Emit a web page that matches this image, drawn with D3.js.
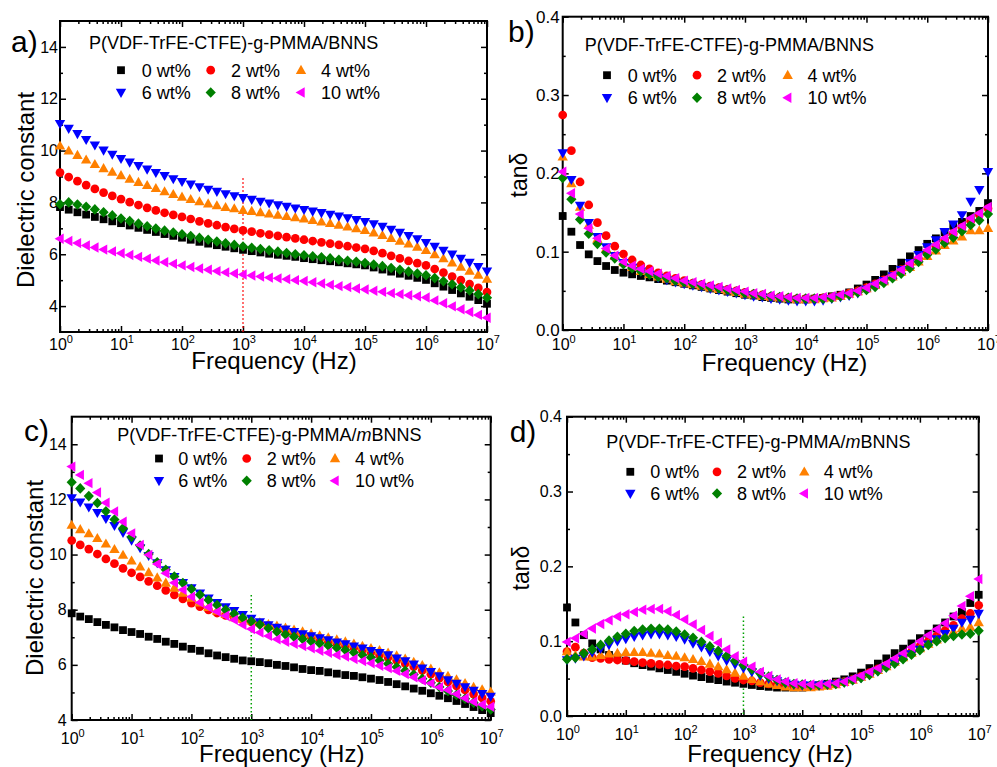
<!DOCTYPE html>
<html>
<head>
<meta charset="utf-8">
<script src="https://cdn.jsdelivr.net/npm/d3@7"></script>
<style>
  body { margin: 0; background: #fff; }
  svg { display: block; }
  text { font-family: Arial, "Liberation Sans", sans-serif; fill: #000; }
</style>
</head>
<body>
<svg id="fig" width="997" height="767"></svg>
<script>
// ---- measurement frequencies (Hz), 7 points per decade ----
const frequency = [
  1, 1.389, 1.931, 2.683, 3.728, 5.179, 7.197,
  10, 13.89, 19.31, 26.83, 37.28, 51.79, 71.97,
  100, 138.9, 193.1, 268.3, 372.8, 517.9, 719.7,
  1e3, 1389, 1931, 2683, 3728, 5179, 7197,
  1e4, 13890, 19310, 26830, 37280, 51790, 71970,
  1e5, 138900, 193100, 268300, 372800, 517900, 719700,
  1e6, 1.389e6, 1.931e6, 2.683e6, 3.728e6, 5.179e6, 7.197e6,
  1e7
];

const loadings = ["0 wt%", "2 wt%", "4 wt%", "6 wt%", "8 wt%", "10 wt%"];

// ---- (a) dielectric constant, BNNS fillers ----
const epsBNNS0 = [7.82, 7.72, 7.62, 7.53, 7.44, 7.35, 7.27, 7.20,
  7.11, 7.02, 6.94, 6.86, 6.78, 6.71, 6.64,
  6.56, 6.48, 6.41, 6.35, 6.29, 6.23, 6.17,
  6.12, 6.07, 6.02, 5.98, 5.94, 5.90, 5.85,
  5.81, 5.77, 5.73, 5.69, 5.65, 5.61, 5.57,
  5.49, 5.41, 5.33, 5.25, 5.17, 5.09, 5.01,
  4.88, 4.75, 4.62, 4.49, 4.36, 4.23, 4.09];
const epsBNNS2 = [9.15, 8.98, 8.82, 8.67, 8.52, 8.38, 8.25, 8.13,
  8.01, 7.90, 7.79, 7.69, 7.60, 7.52, 7.44,
  7.36, 7.27, 7.19, 7.12, 7.05, 6.98, 6.92,
  6.87, 6.81, 6.76, 6.71, 6.66, 6.61, 6.56,
  6.51, 6.46, 6.41, 6.36, 6.31, 6.26, 6.21,
  6.13, 6.04, 5.94, 5.84, 5.74, 5.66, 5.57,
  5.43, 5.29, 5.14, 5.00, 4.85, 4.70, 4.54];
const epsBNNS4 = [10.18, 9.99, 9.82, 9.64, 9.47, 9.31, 9.17, 9.04,
  8.90, 8.78, 8.66, 8.54, 8.42, 8.31, 8.21,
  8.12, 8.03, 7.95, 7.88, 7.81, 7.76, 7.70,
  7.66, 7.61, 7.56, 7.51, 7.46, 7.42, 7.37,
  7.31, 7.25, 7.19, 7.13, 7.06, 6.99, 6.92,
  6.83, 6.73, 6.62, 6.51, 6.40, 6.28, 6.15,
  5.99, 5.83, 5.67, 5.51, 5.35, 5.20, 5.04];
const epsBNNS6 = [11.04, 10.85, 10.65, 10.42, 10.21, 10.01, 9.85, 9.69,
  9.55, 9.42, 9.28, 9.15, 9.03, 8.91, 8.80,
  8.70, 8.60, 8.50, 8.42, 8.33, 8.25, 8.18,
  8.11, 8.04, 7.97, 7.90, 7.84, 7.78, 7.72,
  7.66, 7.60, 7.54, 7.47, 7.40, 7.33, 7.26,
  7.17, 7.07, 6.96, 6.84, 6.72, 6.59, 6.45,
  6.30, 6.15, 6.00, 5.84, 5.68, 5.52, 5.35];
const epsBNNS8 = [7.93, 8.00, 7.92, 7.83, 7.73, 7.62, 7.50, 7.38,
  7.28, 7.18, 7.08, 6.99, 6.91, 6.84, 6.77,
  6.70, 6.63, 6.56, 6.49, 6.42, 6.36, 6.30,
  6.25, 6.20, 6.15, 6.10, 6.05, 6.00, 5.96,
  5.92, 5.88, 5.84, 5.79, 5.75, 5.71, 5.66,
  5.60, 5.54, 5.47, 5.40, 5.33, 5.26, 5.19,
  5.08, 4.96, 4.84, 4.72, 4.60, 4.46, 4.32];
const epsBNNS10 = [6.60, 6.51, 6.43, 6.34, 6.26, 6.18, 6.11, 6.04,
  5.97, 5.90, 5.83, 5.76, 5.69, 5.63, 5.57,
  5.51, 5.45, 5.40, 5.35, 5.30, 5.26, 5.22,
  5.18, 5.14, 5.10, 5.07, 5.04, 5.00, 4.97,
  4.92, 4.87, 4.82, 4.77, 4.73, 4.68, 4.64,
  4.59, 4.55, 4.50, 4.46, 4.42, 4.38, 4.33,
  4.22, 4.11, 3.99, 3.88, 3.77, 3.66, 3.55];

// ---- (b) loss tangent, BNNS fillers ----
const tanBNNS0 = [0.1455, 0.1255, 0.1085, 0.0966, 0.088, 0.0817, 0.0766, 0.0732,
  0.0711, 0.069, 0.0672, 0.065, 0.063, 0.061, 0.059,
  0.057, 0.055, 0.053, 0.051, 0.049, 0.047, 0.045,
  0.044, 0.042, 0.041, 0.040, 0.039, 0.039, 0.039,
  0.040, 0.041, 0.043, 0.045, 0.048, 0.053, 0.058,
  0.064, 0.071, 0.078, 0.086, 0.094, 0.102, 0.110,
  0.117, 0.125, 0.133, 0.138, 0.1455, 0.152, 0.162];
const tanBNNS2 = [0.2745, 0.229, 0.189, 0.1596, 0.137, 0.1204, 0.107, 0.097,
  0.0894, 0.083, 0.078, 0.073, 0.069, 0.066, 0.063,
  0.060, 0.058, 0.056, 0.054, 0.052, 0.050, 0.048,
  0.046, 0.045, 0.043, 0.042, 0.041, 0.040, 0.040,
  0.040, 0.041, 0.042, 0.044, 0.047, 0.050, 0.054,
  0.059, 0.064, 0.070, 0.077, 0.084, 0.091, 0.099,
  0.107, 0.115, 0.123, 0.131, 0.139, 0.147, 0.155];
const tanBNNS4 = [0.221, 0.187, 0.157, 0.134, 0.116, 0.104, 0.094, 0.086,
  0.080, 0.075, 0.071, 0.068, 0.065, 0.062, 0.060,
  0.058, 0.056, 0.054, 0.052, 0.050, 0.048, 0.046,
  0.045, 0.043, 0.042, 0.041, 0.040, 0.039, 0.039,
  0.039, 0.040, 0.041, 0.043, 0.046, 0.049, 0.053,
  0.057, 0.062, 0.068, 0.074, 0.080, 0.087, 0.094,
  0.101, 0.108, 0.114, 0.119, 0.127, 0.127, 0.130];
const tanBNNS6 = [0.226, 0.192, 0.159, 0.137, 0.119, 0.106, 0.095, 0.086,
  0.080, 0.075, 0.071, 0.067, 0.064, 0.061, 0.059,
  0.057, 0.055, 0.053, 0.051, 0.049, 0.047, 0.045,
  0.043, 0.042, 0.040, 0.039, 0.038, 0.037, 0.037,
  0.037, 0.038, 0.040, 0.042, 0.044, 0.047, 0.052,
  0.057, 0.063, 0.069, 0.077, 0.086, 0.096, 0.106,
  0.115, 0.1255, 0.135, 0.147, 0.164, 0.179, 0.202];
const tanBNNS8 = [0.194, 0.167, 0.141, 0.123, 0.110, 0.099, 0.0915, 0.084,
  0.079, 0.075, 0.071, 0.068, 0.066, 0.063, 0.061,
  0.059, 0.057, 0.055, 0.053, 0.051, 0.049, 0.047,
  0.046, 0.044, 0.043, 0.042, 0.041, 0.040, 0.040,
  0.040, 0.040, 0.041, 0.043, 0.045, 0.048, 0.051,
  0.055, 0.060, 0.066, 0.072, 0.079, 0.087, 0.096,
  0.103, 0.111, 0.118, 0.126, 0.134, 0.140, 0.148];
const tanBNNS10 = [0.202, 0.1745, 0.148, 0.130, 0.117, 0.104, 0.095, 0.087,
  0.082, 0.078, 0.075, 0.072, 0.069, 0.066, 0.063,
  0.061, 0.059, 0.057, 0.055, 0.053, 0.051, 0.049,
  0.047, 0.046, 0.044, 0.043, 0.042, 0.041, 0.041,
  0.041, 0.042, 0.043, 0.045, 0.047, 0.050, 0.054,
  0.059, 0.064, 0.070, 0.077, 0.085, 0.093, 0.102,
  0.109, 0.117, 0.1255, 0.133, 0.1426, 0.149, 0.157];

// ---- (c) dielectric constant, mBNNS fillers ----
const epsMBNNS0 = [7.87, 7.75, 7.66, 7.55, 7.45, 7.36, 7.26, 7.19,
  7.12, 7.02, 6.94, 6.84, 6.76, 6.66, 6.58,
  6.51, 6.42, 6.34, 6.28, 6.22, 6.16, 6.13,
  6.10, 6.06, 6.00, 5.96, 5.91, 5.85, 5.81,
  5.78, 5.73, 5.68, 5.63, 5.60, 5.55, 5.50,
  5.45, 5.38, 5.30, 5.22, 5.14, 5.06, 4.97,
  4.88, 4.79, 4.69, 4.58, 4.47, 4.36, 4.25];
const epsMBNNS2 = [10.51, 10.35, 10.20, 10.02, 9.84, 9.67, 9.50, 9.34,
  9.19, 9.03, 8.87, 8.70, 8.54, 8.39, 8.24,
  8.11, 7.99, 7.88, 7.79, 7.71, 7.63, 7.56,
  7.49, 7.42, 7.33, 7.25, 7.17, 7.09, 7.02,
  6.94, 6.86, 6.78, 6.70, 6.62, 6.54, 6.45,
  6.36, 6.27, 6.16, 6.05, 5.93, 5.80, 5.66,
  5.52, 5.38, 5.24, 5.09, 4.94, 4.80, 4.68];
const epsMBNNS4 = [11.07, 10.91, 10.76, 10.59, 10.39, 10.19, 9.98, 9.77,
  9.56, 9.35, 9.16, 8.97, 8.79, 8.60, 8.42,
  8.25, 8.09, 7.95, 7.83, 7.72, 7.66, 7.60,
  7.53, 7.47, 7.41, 7.34, 7.27, 7.20, 7.13,
  7.06, 6.99, 6.91, 6.84, 6.76, 6.68, 6.60,
  6.52, 6.43, 6.33, 6.22, 6.10, 5.98, 5.85,
  5.72, 5.59, 5.46, 5.33, 5.19, 5.10, 5.02];
const epsMBNNS6 = [12.05, 11.90, 11.72, 11.52, 11.30, 11.05, 10.80, 10.52,
  10.24, 9.96, 9.70, 9.44, 9.20, 8.98, 8.79,
  8.60, 8.42, 8.25, 8.10, 7.96, 7.82, 7.68,
  7.56, 7.45, 7.36, 7.29, 7.20, 7.12, 7.05,
  6.98, 6.90, 6.82, 6.76, 6.68, 6.60, 6.51,
  6.44, 6.36, 6.24, 6.14, 6.02, 5.88, 5.75,
  5.60, 5.45, 5.33, 5.20, 5.07, 4.95, 4.85];
const epsMBNNS8 = [12.62, 12.40, 12.12, 11.87, 11.57, 11.27, 10.95, 10.64,
  10.33, 10.02, 9.72, 9.45, 9.20, 8.97, 8.75,
  8.54, 8.35, 8.17, 8.00, 7.85, 7.71, 7.58,
  7.46, 7.33, 7.20, 7.10, 7.02, 6.94, 6.86,
  6.78, 6.70, 6.62, 6.54, 6.45, 6.36, 6.27,
  6.16, 6.04, 5.92, 5.79, 5.65, 5.50, 5.35,
  5.20, 5.05, 4.91, 4.77, 4.63, 4.50, 4.38];
const epsMBNNS10 = [13.19, 12.89, 12.59, 12.25, 11.88, 11.56, 11.19, 10.77,
  10.35, 9.99, 9.66, 9.32, 8.98, 8.72, 8.47,
  8.26, 8.09, 7.93, 7.78, 7.63, 7.45, 7.30,
  7.17, 7.05, 6.93, 6.84, 6.76, 6.68, 6.60,
  6.51, 6.44, 6.36, 6.30, 6.21, 6.14, 6.06,
  5.97, 5.88, 5.78, 5.67, 5.55, 5.43, 5.33,
  5.19, 5.09, 4.94, 4.79, 4.66, 4.56, 4.48];

// ---- (d) loss tangent, mBNNS fillers ----
const tanMBNNS0 = [0.145, 0.125, 0.108, 0.097, 0.089, 0.0815, 0.078, 0.074,
  0.0705, 0.068, 0.066, 0.0637, 0.0615, 0.059, 0.0565,
  0.054, 0.052, 0.0495, 0.048, 0.046, 0.0445, 0.043,
  0.0415, 0.040, 0.039, 0.038, 0.038, 0.038, 0.038,
  0.039, 0.041, 0.043, 0.046, 0.049, 0.053, 0.058,
  0.064, 0.070, 0.077, 0.084, 0.090, 0.097, 0.104,
  0.110, 0.117, 0.125, 0.133, 0.139, 0.151, 0.162];
const tanMBNNS2 = [0.086, 0.092, 0.084, 0.078, 0.077, 0.0757, 0.0748, 0.074,
  0.0726, 0.0713, 0.0704, 0.069, 0.0682, 0.0668, 0.0659,
  0.0637, 0.0615, 0.0592, 0.057, 0.0535, 0.0503, 0.0481,
  0.0468, 0.0445, 0.043, 0.042, 0.041, 0.040, 0.040,
  0.040, 0.041, 0.042, 0.044, 0.046, 0.049, 0.053,
  0.058, 0.063, 0.068, 0.074, 0.080, 0.086, 0.093,
  0.100, 0.107, 0.114, 0.121, 0.130, 0.137, 0.148];
const tanMBNNS4 = [0.086, 0.081, 0.079, 0.079, 0.081, 0.083, 0.084, 0.085,
  0.085, 0.085, 0.084, 0.083, 0.081, 0.080, 0.078,
  0.0757, 0.073, 0.0695, 0.066, 0.062, 0.0575, 0.0535,
  0.049, 0.046, 0.043, 0.041, 0.039, 0.038, 0.038,
  0.038, 0.039, 0.040, 0.042, 0.045, 0.048, 0.052,
  0.056, 0.061, 0.066, 0.072, 0.078, 0.084, 0.090,
  0.096, 0.102, 0.108, 0.113, 0.117, 0.119, 0.125];
const tanMBNNS6 = [0.075, 0.077, 0.080, 0.085, 0.090, 0.095, 0.100, 0.103,
  0.106, 0.108, 0.1095, 0.1095, 0.108, 0.106, 0.1025,
  0.097, 0.092, 0.086, 0.080, 0.074, 0.069, 0.064,
  0.059, 0.054, 0.050, 0.047, 0.044, 0.042, 0.041,
  0.041, 0.041, 0.042, 0.043, 0.045, 0.048, 0.051,
  0.055, 0.060, 0.065, 0.071, 0.077, 0.083, 0.089,
  0.096, 0.103, 0.110, 0.117, 0.125, 0.129, 0.137];
const tanMBNNS8 = [0.0757, 0.078, 0.0837, 0.089, 0.095, 0.1007, 0.106, 0.110,
  0.1135, 0.1155, 0.1165, 0.1165, 0.1155, 0.113, 0.109,
  0.1045, 0.099, 0.093, 0.087, 0.0802, 0.074, 0.0682,
  0.0624, 0.057, 0.0526, 0.0481, 0.0445, 0.0428, 0.042,
  0.041, 0.041, 0.042, 0.043, 0.045, 0.048, 0.051,
  0.055, 0.060, 0.065, 0.070, 0.076, 0.082, 0.088,
  0.095, 0.100, 0.104, 0.107, 0.109, 0.110, 0.114];
const tanMBNNS10 = [0.099, 0.104, 0.110, 0.117, 0.123, 0.128, 0.133, 0.136,
  0.139, 0.142, 0.143, 0.143, 0.140, 0.135, 0.129,
  0.1225, 0.115, 0.107, 0.098, 0.089, 0.080, 0.0726,
  0.066, 0.059, 0.0535, 0.049, 0.046, 0.0437, 0.043,
  0.042, 0.042, 0.043, 0.044, 0.046, 0.050, 0.054,
  0.059, 0.064, 0.070, 0.077, 0.084, 0.092, 0.100,
  0.108, 0.116, 0.124, 0.134, 0.147, 0.160, 0.183];

// ---- axis ticks ----
const xDecades = [1, 10, 100, 1e3, 1e4, 1e5, 1e6, 1e7];
const xDecadeExponents = [0, 1, 2, 3, 4, 5, 6, 7];
const epsTicks = [4, 6, 8, 10, 12, 14];
const epsMinorTicks = [5, 7, 9, 11, 13];
const tanTicks = [0.0, 0.1, 0.2, 0.3, 0.4];
const tanMinorTicks = [0.05, 0.15, 0.25, 0.35];
const xMinorTicks = [];
xDecades.slice(0, 7).forEach(d => { for (let m = 2; m <= 9; m++) xMinorTicks.push(d * m); });

// ---- styling ----
const colors = ["#000000", "#ff0000", "#ff8000", "#0000ff", "#008000", "#ff00ff"];
const shapes = [
  "M-3.9,-3.9H3.9V3.9H-3.9Z",                       // square
  d3.symbol(d3.symbolCircle, 60)(),                  // circle
  "M0,-5.4L5.2,3.7H-5.2Z",                           // up triangle
  "M0,5.4L5.2,-3.7H-5.2Z",                           // down triangle
  "M0,-5.3L5.1,0L0,5.3L-5.1,0Z",                     // diamond
  "M-5.4,0L3.7,-5.2V5.2Z"                            // left triangle
];

const panels = [
  {
    letter: "a)", letterPos: [11, 52],
    box: { left: 60, right: 487, top: 21, bottom: 332 },
    yDomain: [3, 15], yTicks: epsTicks, yMinor: epsMinorTicks, yFmt: d3.format("d"),
    yPad: 2, yFont: 16, xLabelDrop: 18,
    yTitle: "Dielectric constant", yTitlePos: [33.5, 190], yTitleSize: 24,
    xTitlePos: [274, 369],
    filler: "BNNS", legend: { title: [89, 49], rows: [76.7, 99], sym: [121, 210.7, 301], txt: [141.7, 231, 321] },
    series: [epsBNNS0, epsBNNS2, epsBNNS4, epsBNNS6, epsBNNS8, epsBNNS10],
    guide: { color: "#ff0000", top: 8.93 }
  },
  {
    letter: "b)", letterPos: [508, 42],
    box: { left: 562.7, right: 988, top: 16.7, bottom: 330 },
    yDomain: [0, 0.4], yTicks: tanTicks, yMinor: tanMinorTicks, yFmt: d3.format(".1f"),
    yPad: 3, yFont: 17, xLabelDrop: 20,
    yTitle: "tanδ", yTitlePos: [527, 175], yTitleSize: 23,
    xTitlePos: [784.5, 371],
    filler: "BNNS", legend: { title: [584.7, 50.7], rows: [81.7, 104.3], sym: [607, 697, 787.7], txt: [627.7, 717, 807.5] },
    series: [tanBNNS0, tanBNNS2, tanBNNS4, tanBNNS6, tanBNNS8, tanBNNS10],
    guide: null
  },
  {
    letter: "c)", letterPos: [24, 441],
    box: { left: 71.7, right: 490.7, top: 416.7, bottom: 720 },
    yDomain: [4, 15], yTicks: epsTicks, yMinor: epsMinorTicks, yFmt: d3.format("d"),
    yPad: 5, yFont: 16, xLabelDrop: 24,
    yTitle: "Dielectric constant", yTitlePos: [43.3, 578], yTitleSize: 24,
    xTitlePos: [281.7, 761.5],
    filler: "mBNNS", legend: { title: [117.3, 440.7], rows: [465, 487.3], sym: [159, 246.7, 335], txt: [178.3, 266.7, 355] },
    series: [epsMBNNS0, epsMBNNS2, epsMBNNS4, epsMBNNS6, epsMBNNS8, epsMBNNS10],
    guide: { color: "#00a000", top: 8.53 }
  },
  {
    letter: "d)", letterPos: [509.7, 441.7],
    box: { left: 567, right: 978.7, top: 416.7, bottom: 716 },
    yDomain: [0, 0.4], yTicks: tanTicks, yMinor: tanMinorTicks, yFmt: d3.format(".1f"),
    yPad: 5, yFont: 16, xLabelDrop: 24,
    yTitle: "tanδ", yTitlePos: [529, 568], yTitleSize: 23,
    xTitlePos: [770, 761.5],
    filler: "mBNNS", legend: { title: [606.3, 448.3], rows: [478.3, 500], sym: [630.3, 717, 804.3], txt: [650.3, 737, 823.7] },
    series: [tanMBNNS0, tanMBNNS2, tanMBNNS4, tanMBNNS6, tanMBNNS8, tanMBNNS10],
    guide: { color: "#00a000", top: 0.133 }
  }
];

const svg = d3.select("#fig");
svg.append("rect").attr("width", 997).attr("height", 767).attr("fill", "#fff");

panels.forEach(p => {
  const b = p.box;
  const x = d3.scaleLog().domain([1, 1e7]).range([b.left, b.right]);
  const y = d3.scaleLinear().domain(p.yDomain).range([b.bottom, b.top]);
  const g = svg.append("g");

  // tick marks on all four sides, pointing inward
  const tickStyle = sel => {
    sel.select(".domain").remove();
    sel.selectAll(".tick line").attr("stroke", "#000").attr("stroke-width", 1.5);
  };
  const addAxis = (axis, tx, ty) => g.append("g").attr("transform", `translate(${tx},${ty})`).call(axis).call(tickStyle);

  addAxis(d3.axisBottom(x).tickValues(xDecades).tickSize(-6).tickFormat(""), 0, b.bottom);
  addAxis(d3.axisBottom(x).tickValues(xMinorTicks).tickSize(-3).tickFormat(""), 0, b.bottom);
  addAxis(d3.axisTop(x).tickValues(xDecades).tickSize(-6).tickFormat(""), 0, b.top);
  addAxis(d3.axisTop(x).tickValues(xMinorTicks).tickSize(-3).tickFormat(""), 0, b.top);

  const yLeft = addAxis(d3.axisLeft(y).tickValues(p.yTicks).tickSizeInner(-6).tickSizeOuter(0)
    .tickPadding(p.yPad).tickFormat(p.yFmt), b.left, 0);
  yLeft.selectAll(".tick text").attr("font-size", p.yFont).attr("font-family", "Arial, 'Liberation Sans', sans-serif").attr("fill", "#000");
  addAxis(d3.axisLeft(y).tickValues(p.yMinor).tickSize(-3).tickFormat(""), b.left, 0);
  addAxis(d3.axisRight(y).tickValues(p.yTicks).tickSize(-6).tickFormat(""), b.right, 0);
  addAxis(d3.axisRight(y).tickValues(p.yMinor).tickSize(-3).tickFormat(""), b.right, 0);

  // decade labels 10^n
  xDecades.forEach((d, k) => {
    const t = g.append("text")
      .attr("x", x(d) + 1).attr("y", b.bottom + p.xLabelDrop)
      .attr("text-anchor", "middle").attr("font-size", 16);
    t.append("tspan").text("10");
    t.append("tspan").attr("font-size", 11).attr("dy", -7).text(xDecadeExponents[k]);
  });

  // frame
  g.append("rect")
    .attr("x", b.left).attr("y", b.top)
    .attr("width", b.right - b.left).attr("height", b.bottom - b.top)
    .attr("fill", "none").attr("stroke", "#000").attr("stroke-width", 2);

  // dotted guide at 1 kHz
  if (p.guide) {
    g.append("line")
      .attr("x1", x(1e3)).attr("x2", x(1e3))
      .attr("y1", y(p.guide.top)).attr("y2", b.bottom)
      .attr("stroke", p.guide.color).attr("stroke-width", 1.5)
      .attr("stroke-dasharray", "1.4,2.6");
  }

  // data markers
  p.series.forEach((vals, s) => {
    g.append("g").selectAll("path")
      .data(vals.map((v, i) => [frequency[i], v]))
      .join("path")
      .attr("transform", d => `translate(${x(d[0])},${y(d[1])})`)
      .attr("d", shapes[s])
      .attr("fill", colors[s]);
  });

  // axis titles
  g.append("text")
    .attr("x", p.xTitlePos[0]).attr("y", p.xTitlePos[1])
    .attr("text-anchor", "middle").attr("font-size", 24).text("Frequency (Hz)");
  g.append("text")
    .attr("transform", `translate(${p.yTitlePos[0]},${p.yTitlePos[1]}) rotate(-90)`)
    .attr("text-anchor", "middle").attr("font-size", p.yTitleSize).text(p.yTitle);

  // panel letter
  g.append("text").attr("x", p.letterPos[0]).attr("y", p.letterPos[1])
    .attr("font-size", 30).text(p.letter);

  // legend title
  const lt = g.append("text").attr("x", p.legend.title[0]).attr("y", p.legend.title[1]).attr("font-size", 18);
  lt.append("tspan").text("P(VDF-TrFE-CTFE)-g-PMMA/");
  if (p.filler === "mBNNS") {
    lt.append("tspan").attr("font-style", "italic").text("m");
    lt.append("tspan").text("BNNS");
  } else {
    lt.append("tspan").text("BNNS");
  }

  // legend entries: two rows of three
  loadings.forEach((lab, s) => {
    const row = Math.floor(s / 3), col = s % 3;
    const by = p.legend.rows[row];
    g.append("path")
      .attr("transform", `translate(${p.legend.sym[col]},${by - 6.5})`)
      .attr("d", shapes[s]).attr("fill", colors[s]);
    g.append("text")
      .attr("x", p.legend.txt[col]).attr("y", by)
      .attr("font-size", 18).attr("fill", colors[s]).text(lab);
  });
});
</script>
</body>
</html>
